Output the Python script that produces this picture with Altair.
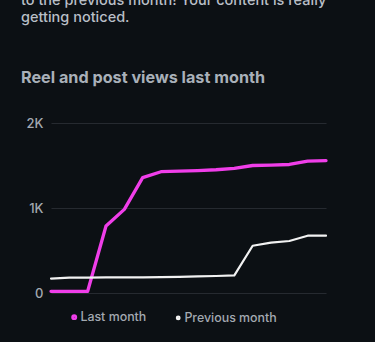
import altair as alt
import pandas as pd

days = list(range(16))
last_month = [20, 20, 20, 788, 984, 1357, 1427, 1433, 1440, 1450, 1465, 1500, 1505, 1512, 1552, 1557]
previous_month = [170, 180, 182, 183, 184, 185, 186, 190, 196, 200, 208, 556, 592, 612, 674, 674]
series_names = ["Last month", "Previous month"]
series_colors = ["#f03ee9", "#f2f2f2"]
y_ticks = [0, 1000, 2000]

intro_lines = ["to the previous month! Your content is really", "getting noticed."]
title_text = "Reel and post views last month"

rows = []
for i, d in enumerate(days):
    rows.append({"day": d, "views": last_month[i], "series": series_names[0]})
    rows.append({"day": d, "views": previous_month[i], "series": series_names[1]})
df = pd.DataFrame(rows)

BG = "#0c1014"
FONT = "Inter"

x = alt.X("day:Q", axis=None, scale=alt.Scale(domain=[0, 15], nice=False, zero=False))
y = alt.Y(
    "views:Q",
    scale=alt.Scale(domain=[0, 2000], nice=False),
    axis=alt.Axis(
        values=y_ticks,
        title=None,
        domain=False,
        ticks=False,
        labelExpr="datum.value == 0 ? '0' : (datum.value / 1000) + 'K'",
        labelColor="#a3a9b1",
        labelFontSize=13,
        labelFont=FONT,
        labelFontWeight=500,
        labelPadding=8,
        gridColor="#262a30",
        gridWidth=1,
    ),
)
color = alt.Color(
    "series:N",
    scale=alt.Scale(domain=series_names, range=series_colors),
    legend=alt.Legend(
        title=None,
        orient="none",
        direction="horizontal",
        legendX=17,
        legendY=187.5,
        symbolType="circle",
        symbolSize=7,
        symbolStrokeWidth=3,
        symbolOpacity=1,
        labelColor="#a3a9b1",
        labelFontSize=12.4,
        labelFontWeight=500,
        labelFont=FONT,
        labelOffset=0,
        columnPadding=25,
    ),
)

lines = alt.Chart(df).mark_line(strokeJoin="round", strokeCap="round").encode(
    x=x,
    y=y,
    color=color,
    strokeWidth=alt.StrokeWidth(
        "series:N",
        scale=alt.Scale(domain=series_names, range=[3.3, 2.2]),
        legend=None,
    ),
    order="day:Q",
)

intro_df = pd.DataFrame({"line": intro_lines})
intro_top = alt.Chart(intro_df).transform_filter(
    alt.datum.line == intro_lines[0]
).mark_text(
    align="left", baseline="middle", font=FONT, fontSize=14.5, fontWeight=500, color="#b9bfc7"
).encode(text="line:N", x=alt.value(-30), y=alt.value(-122))
intro_bottom = alt.Chart(intro_df).transform_filter(
    alt.datum.line == intro_lines[1]
).mark_text(
    align="left", baseline="middle", font=FONT, fontSize=14.5, fontWeight=500, color="#b9bfc7"
).encode(text="line:N", x=alt.value(-30), y=alt.value(-105))

title = alt.Chart(pd.DataFrame({"t": [title_text]})).mark_text(
    align="left", baseline="middle", font=FONT, fontSize=16.2, fontWeight="bold", color="#a9b0b9"
).encode(text="t:N", x=alt.value(-30), y=alt.value(-45.5))

chart = (
    alt.layer(lines, intro_top, intro_bottom, title)
    .properties(
        width=275,
        height=170,
        background=BG,
        padding={"left": 51, "top": 123, "right": 49, "bottom": 49},
        autosize=alt.AutoSizeParams(type="none"),
    )
    .configure_view(stroke=None)
)

chart.save("out.html", embed_options={"renderer": "svg", "actions": False})
